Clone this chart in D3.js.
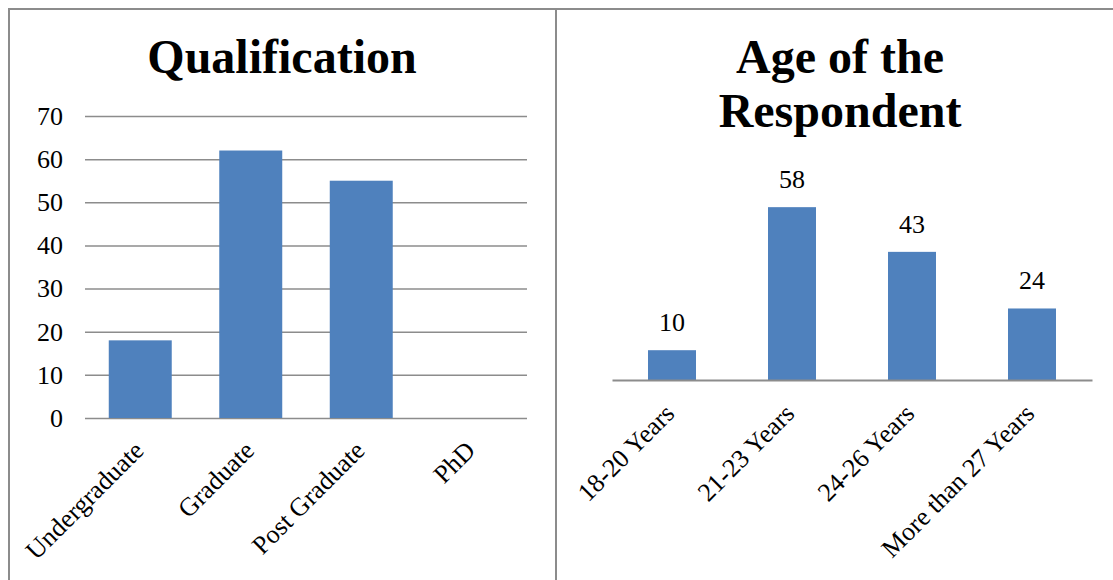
<!DOCTYPE html>
<html>
<head>
<meta charset="utf-8">
<script src="https://cdn.jsdelivr.net/npm/d3@7"></script>
<style>
  body { margin: 0; background: #fff; }
  svg text { font-family: "Times New Roman", "Liberation Serif", serif; fill: #000; }
</style>
</head>
<body>
<div id="chart"></div>
<script>
// data
const qualCategories = ["Undergraduate", "Graduate", "Post Graduate", "PhD"];
const qualValues = [18, 62, 55, 0];
const qualTicks = [0, 10, 20, 30, 40, 50, 60, 70];

const ageCategories = ["18-20 Years", "21-23 Years", "24-26 Years", "More than 27 Years"];
const ageValues = [10, 58, 43, 24];

const width = 1113, height = 580;
const barColor = "#4F81BD";
const gridColor = "#8c8c8c";
const labelSize = 26;

const svg = d3.select("#chart").append("svg")
  .attr("width", width)
  .attr("height", height);

// panel frames
svg.append("line").attr("x1", 8).attr("x2", width).attr("y1", 9).attr("y2", 9)
  .attr("stroke", gridColor).attr("stroke-width", 2);
svg.append("line").attr("x1", 9).attr("x2", 9).attr("y1", 8).attr("y2", height)
  .attr("stroke", gridColor).attr("stroke-width", 2);
svg.append("line").attr("x1", 556).attr("x2", 556).attr("y1", 8).attr("y2", height)
  .attr("stroke", gridColor).attr("stroke-width", 2);

/* LEFT: Qualification */
const x1 = d3.scaleBand()
  .domain(qualCategories)
  .range([85, 527])
  .paddingInner(0.43)
  .paddingOuter(0.215);

const y1 = d3.scaleLinear()
  .domain([0, 70])
  .range([418, 116]);

svg.append("text")
  .attr("x", 282).attr("y", 73)
  .attr("text-anchor", "middle")
  .attr("font-size", 48).attr("font-weight", "bold")
  .text("Qualification");

// gridlines
svg.append("g")
  .attr("transform", "translate(85,0)")
  .call(d3.axisLeft(y1).tickValues(qualTicks).tickSize(-442).tickFormat(""))
  .call(g => g.select(".domain").remove())
  .call(g => g.selectAll("line").attr("stroke", gridColor).attr("stroke-width", 1.5));

// tick labels
svg.append("g")
  .attr("transform", "translate(63,0)")
  .call(d3.axisLeft(y1).tickValues(qualTicks).tickSize(0).tickPadding(0))
  .call(g => g.select(".domain").remove())
  .call(g => g.selectAll("text").attr("font-size", labelSize).attr("dy", "0.32em")
    .style("font-family", "'Times New Roman', 'Liberation Serif', serif"));

svg.append("g")
  .selectAll("rect")
  .data(qualValues)
  .join("rect")
  .attr("x", (d, i) => x1(qualCategories[i]))
  .attr("width", x1.bandwidth())
  .attr("y", d => y1(d))
  .attr("height", d => y1(0) - y1(d))
  .attr("fill", barColor);

svg.append("g")
  .selectAll("text")
  .data(qualCategories)
  .join("text")
  .attr("font-size", labelSize)
  .attr("text-anchor", "end")
  .attr("transform", d => `translate(${x1(d) + x1.bandwidth() / 2 + 5},${y1(0) + 34}) rotate(-45)`)
  .text(d => d);

/* RIGHT: Age of the Respondent */
const x2 = d3.scaleBand()
  .domain(ageCategories)
  .range([612, 1092])
  .paddingInner(0.6)
  .paddingOuter(0.3);

const y2 = d3.scaleLinear()
  .domain([0, 70])
  .range([380, 171.4]);

svg.append("text")
  .attr("x", 840).attr("y", 73)
  .attr("text-anchor", "middle")
  .attr("font-size", 48).attr("font-weight", "bold")
  .text("Age of the");
svg.append("text")
  .attr("x", 840).attr("y", 127)
  .attr("text-anchor", "middle")
  .attr("font-size", 48).attr("font-weight", "bold")
  .text("Respondent");

svg.append("g")
  .selectAll("rect")
  .data(ageValues)
  .join("rect")
  .attr("x", (d, i) => x2(ageCategories[i]))
  .attr("width", x2.bandwidth())
  .attr("y", d => y2(d))
  .attr("height", d => y2(0) - y2(d))
  .attr("fill", barColor);

// baseline
svg.append("g")
  .attr("transform", `translate(0,${y2(0)})`)
  .call(d3.axisBottom(x2).tickSize(0).tickFormat(""))
  .call(g => g.select(".domain").attr("stroke", gridColor).attr("stroke-width", 2));

// value labels
svg.append("g")
  .selectAll("text")
  .data(ageValues)
  .join("text")
  .attr("font-size", labelSize)
  .attr("text-anchor", "middle")
  .attr("x", (d, i) => x2(ageCategories[i]) + x2.bandwidth() / 2)
  .attr("y", d => y2(d) - 19)
  .text(d => d);

svg.append("g")
  .selectAll("text")
  .data(ageCategories)
  .join("text")
  .attr("font-size", labelSize)
  .attr("text-anchor", "end")
  .attr("transform", d => `translate(${x2(d) + x2.bandwidth() / 2 + 4},${y2(0) + 35}) rotate(-45)`)
  .text(d => d);
</script>
</body>
</html>
